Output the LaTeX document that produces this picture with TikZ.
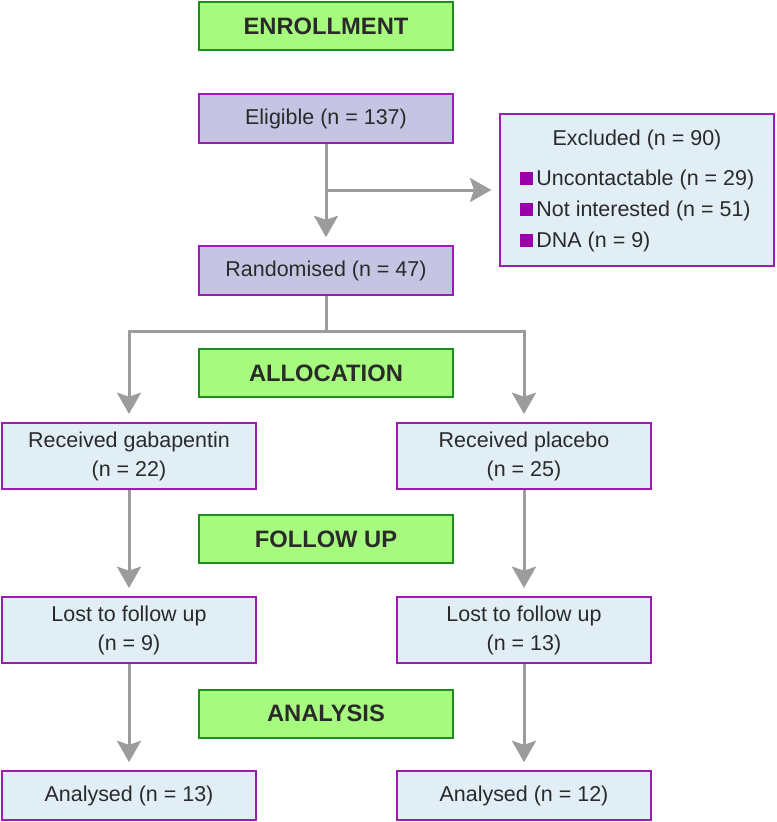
\documentclass[tikz,border=0pt]{standalone}
\usepackage{fontspec}
\setmainfont{Liberation Sans}
\usetikzlibrary{arrows.meta}
\definecolor{hdrfill}{HTML}{A6FB7E}
\definecolor{hdrline}{HTML}{1E8C1E}
\definecolor{purfill}{HTML}{C5C5E3}
\definecolor{purline}{HTML}{9B1BB3}
\definecolor{bluefill}{HTML}{E1EEF6}
\definecolor{arrcol}{HTML}{9C9C9C}
\definecolor{txtcol}{HTML}{2A2A2A}
\definecolor{bulcol}{HTML}{9900AA}
\newcommand{\bulsq}{\textcolor{bulcol}{\rule[0pt]{10pt}{10pt}}\hspace{2.5pt}}
\begin{document}
\begin{tikzpicture}[x=0.75pt,y=-0.75pt,
  base/.style={line width=1.5pt, inner sep=0pt, text=txtcol, align=center,
    minimum width=191pt},
  hdr/.style={base, draw=hdrline, fill=hdrfill, minimum height=36pt,
    font=\fontsize{17.8}{21}\selectfont\bfseries},
  purbox/.style={base, draw=purline, fill=purfill, minimum height=36.5pt,
    font=\fontsize{16.1}{21.75}\selectfont},
  bluebox/.style={base, draw=purline, fill=bluefill, minimum height=49.5pt,
    font=\fontsize{16.1}{21.75}\selectfont},
  flowarr/.style={draw=arrcol, line width=2.25pt,
    -{Stealth[width=18pt,length=16pt,inset=3pt]}, shorten >=6pt},
  flowline/.style={draw=arrcol, line width=2.25pt}]
\useasboundingbox (0,0) rectangle (776,822);
% headers
\node[hdr] (enr) at (326,26) {ENROLLMENT};
\node[hdr] (alloc) at (326,373) {ALLOCATION};
\node[hdr] (fol) at (326,539) {FOLLOW UP};
\node[hdr] (ana) at (326,713.5) {ANALYSIS};
% enrollment
\node[purbox] (elig) at (326,118.5) {Eligible (n = 137)};
\node[purbox] (rand) at (326,270.5) {Randomised (n = 47)};
\node[base, draw=purline, fill=bluefill, minimum width=205pt, minimum height=114pt,
  font=\fontsize{16.1}{23.25}\selectfont] (excl) at (637,190)
  {\begin{tabular}{@{}l@{}}\multicolumn{1}{c}{Excluded (n = 90)}\\[7pt]
   \bulsq Uncontactable (n = 29)\\
   \bulsq Not interested (n = 51)\\
   \bulsq DNA (n = 9)\end{tabular}};
% arms
\node[bluebox] (gab) at (129,456) {Received gabapentin\\(n = 22)};
\node[bluebox] (plac) at (524,456) {Received placebo\\(n = 25)};
\node[bluebox] (lostl) at (129,630) {Lost to follow up\\(n = 9)};
\node[bluebox] (lostr) at (524,630) {Lost to follow up\\(n = 13)};
\node[bluebox, minimum height=36.5pt] (anl) at (129,795.5) {Analysed (n = 13)};
\node[bluebox, minimum height=36.5pt] (anr) at (524,795.5) {Analysed (n = 12)};
% connectors
\coordinate (jx) at (326,190);
\coordinate (jr) at (326,331);
\draw[flowarr] (elig.south) -- (rand.north);
\draw[flowarr] (jx) -- (excl.west |- jx);
\draw[flowline] (rand.south) -- (jr);
\draw[flowarr] (jr) -| (gab.north);
\draw[flowarr] (jr) -| (plac.north);
\draw[flowarr] (gab.south) -- (lostl.north);
\draw[flowarr] (plac.south) -- (lostr.north);
\draw[flowarr] (lostl.south) -- (anl.north);
\draw[flowarr] (lostr.south) -- (anr.north);
\end{tikzpicture}
\end{document}
